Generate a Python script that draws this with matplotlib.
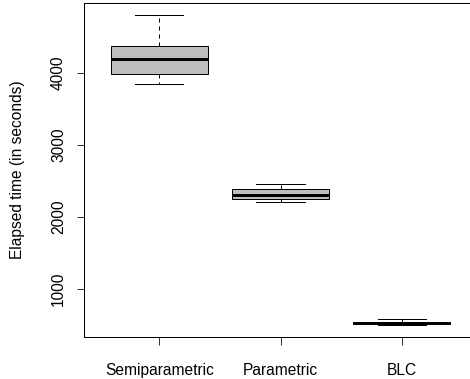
import matplotlib
matplotlib.use("Agg")
import matplotlib.pyplot as plt

# five-number summaries (seconds)
labels = ["Semiparametric", "Parametric", "BLC"]
whislo = [3847, 2210, 505]
q1 = [3986, 2245, 515]
med = [4194, 2300, 528]
q3 = [4375, 2385, 540]
whishi = [4800, 2463, 583]

plt.rcParams["font.family"] = ["Liberation Sans", "DejaVu Sans"]
plt.rcParams["font.size"] = 15.5

stats = []
for i in range(len(labels)):
    stats.append(dict(label=labels[i], whislo=whislo[i], q1=q1[i], med=med[i],
                      q3=q3[i], whishi=whishi[i], fliers=[]))

fig = plt.figure(figsize=(470 / 72, 379 / 72), dpi=72)
ax = fig.add_axes([84 / 470, 42 / 379, 393 / 470, 334 / 379])

ax.bxp(stats, positions=[1, 2, 3], widths=0.8, patch_artist=True,
       boxprops=dict(facecolor="#bebebe", edgecolor="black", linewidth=1),
       medianprops=dict(color="black", linewidth=3, solid_capstyle="butt"),
       whiskerprops=dict(color="black", linewidth=1, linestyle=(0, (4, 4))),
       capprops=dict(color="black", linewidth=1))

# R style axis ranges (4% padding)
lo, hi = min(whislo), max(whishi)
pad = 0.04 * (hi - lo)
ax.set_ylim(lo - pad, hi + pad)
ax.set_xlim(0.5 - 0.12, 3.5 + 0.12)

ax.set_yticks([1000, 2000, 3000, 4000])
ax.set_yticklabels(["1000", "2000", "3000", "4000"], rotation=90, va="center")
ax.tick_params(axis="y", length=7, pad=11)
ax.tick_params(axis="x", length=8, pad=18)

ax.set_ylabel("Elapsed time (in seconds)")
ax.yaxis.set_label_coords(-0.15, 0.5)

for s in ax.spines.values():
    s.set_linewidth(1)

fig.savefig("out.png", dpi=72)
